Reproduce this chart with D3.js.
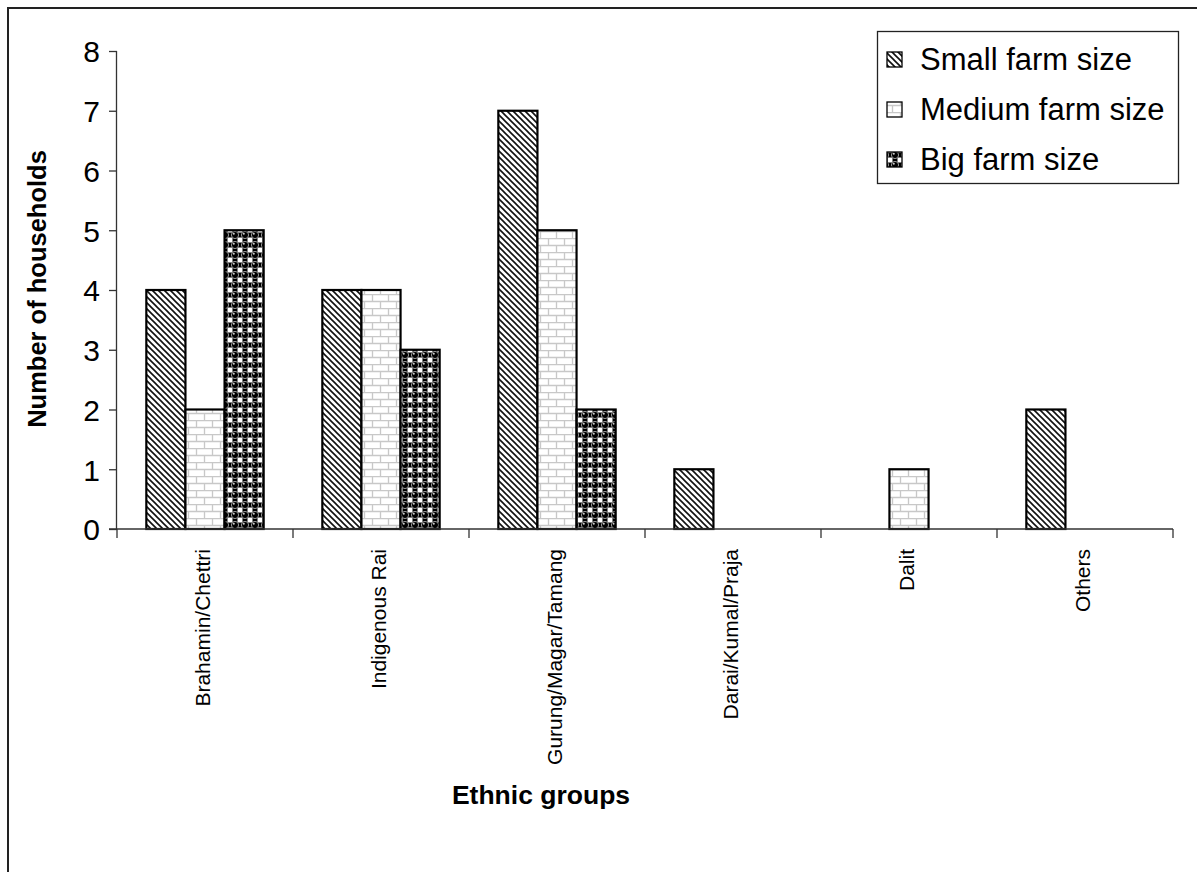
<!DOCTYPE html>
<html><head><meta charset="utf-8">
<script src="https://cdn.jsdelivr.net/npm/d3@7/dist/d3.min.js"></script>
<style>body{margin:0;background:#fff}svg{display:block;font-family:"Liberation Sans",Arial,sans-serif}</style>
</head><body>
<script>
const categories = ["Brahamin/Chettri","Indigenous Rai","Gurung/Magar/Tamang","Darai/Kumal/Praja","Dalit","Others"];
const seriesNames = ["Small farm size","Medium farm size","Big farm size"];
const smallFarm = [4,4,7,1,0,2];
const mediumFarm = [2,4,5,0,1,0];
const bigFarm = [5,3,2,0,0,0];
const yTicks = [0,1,2,3,4,5,6,7,8];
const seriesValues = [smallFarm, mediumFarm, bigFarm];

const W = 1197, H = 872;
const svg = d3.select("body").append("svg").attr("width", W).attr("height", H);
const defs = svg.append("defs");

// pattern: diagonal lines
const p1 = defs.append("pattern").attr("id","pSmall").attr("patternUnits","userSpaceOnUse").attr("width",6).attr("height",6);
p1.append("rect").attr("width",6).attr("height",6).attr("fill","#fff");
p1.append("path").attr("d","M-1,-1 L7,7 M-1,5 L1,7 M5,-1 L7,1").attr("stroke","#111").attr("stroke-width",1.6);

// pattern: bricks
const p2 = defs.append("pattern").attr("id","pMed").attr("patternUnits","userSpaceOnUse").attr("width",16).attr("height",14);
p2.append("rect").attr("width",16).attr("height",14).attr("fill","#fff");
p2.append("path").attr("d","M0,0.5 H16 M0,7.5 H16 M4.5,0 V7 M12.5,7 V14").attr("stroke","#c8c8c8").attr("stroke-width",1.3).attr("fill","none");

// pattern: balls
const p3 = defs.append("pattern").attr("id","pBig").attr("patternUnits","userSpaceOnUse").attr("width",10).attr("height",10);
p3.append("rect").attr("width",10).attr("height",10).attr("fill","#000");
[[0,0],[10,0],[0,10],[10,10]].forEach(([sx,sy])=>{
  p3.append("rect").attr("x",sx-2.5).attr("y",sy-2.5).attr("width",5).attr("height",5).attr("fill","#fff");
});
[[5,5]].forEach(([cx,cy])=>{
  p3.append("circle").attr("cx",cx).attr("cy",cy).attr("r",3.6).attr("fill","#000").attr("stroke","#9a9a9a").attr("stroke-width",1);
  p3.append("circle").attr("cx",cx-1.2).attr("cy",cy-1.2).attr("r",1).attr("fill","#ccc");
});
const fills = ["url(#pSmall)","url(#pMed)","url(#pBig)"];

// outer border (top and left)
svg.append("path").attr("d","M8,872 V8 H1197").attr("fill","none").attr("stroke","#222").attr("stroke-width",2);

const x0 = 117, x1 = 1173, yBase = 529, yTop = 51;
const x = d3.scaleBand().domain(categories).range([x0,x1]).paddingInner(0).paddingOuter(0);
const y = d3.scaleLinear().domain([0,8]).range([yBase,yTop]);
const bw = x.bandwidth()/4.5;
const xs = d3.scaleBand().domain(seriesNames).range([0, bw*3]);

// bars
const g = svg.append("g");
categories.forEach((c,ci)=>{
  const start = x(c) + (x.bandwidth() - bw*3)/2;
  seriesNames.forEach((s,si)=>{
    const v = seriesValues[si][ci];
    if (!v) return;
    g.append("rect")
      .attr("x", start + xs(s)).attr("y", y(v))
      .attr("width", xs.bandwidth()).attr("height", y(0)-y(v))
      .attr("fill", fills[si]).attr("stroke","#000").attr("stroke-width",2.2);
  });
});

// y axis
const yAxis = svg.append("g").attr("transform",`translate(${x0},0)`)
  .call(d3.axisLeft(y).tickValues(yTicks).tickSize(8).tickPadding(9).tickFormat(d3.format("d")));
yAxis.select(".domain").attr("stroke","#333").attr("stroke-width",1.3).attr("d",`M-0.5,${yTop}V${yBase}`);
yAxis.selectAll(".tick line").attr("stroke","#333").attr("stroke-width",1.3);
yAxis.selectAll(".tick text").attr("font-size",30).attr("fill","#000").attr("font-family","Liberation Sans, Arial, sans-serif").attr("dy","0.36em");

// x axis
const xAxis = svg.append("g").attr("transform",`translate(0,${yBase})`);
xAxis.append("line").attr("x1",x0-8).attr("x2",x1).attr("y1",0).attr("y2",0).attr("stroke","#333").attr("stroke-width",1.3);
const xTickPos = categories.map(c=>x(c)).concat([x1]);
xAxis.selectAll("line.t").data(xTickPos).enter().append("line").attr("class","t")
  .attr("x1",d=>d).attr("x2",d=>d).attr("y1",0).attr("y2",9).attr("stroke","#333").attr("stroke-width",1.3);
xAxis.selectAll("text.cl").data(categories).enter().append("text").attr("class","cl")
  .attr("transform",d=>`translate(${x(d)+x.bandwidth()/2-2},20) rotate(-90)`)
  .attr("text-anchor","end").attr("dy","0.35em").attr("font-size",21).attr("fill","#000").text(d=>d);

// axis titles
svg.append("text").attr("transform","translate(37,289) rotate(-90)").attr("text-anchor","middle")
  .attr("dy","0.35em").attr("font-size",25.5).attr("font-weight","bold").text("Number of households");
svg.append("text").attr("x",541).attr("y",804).attr("text-anchor","middle")
  .attr("font-size",26.5).attr("font-weight","bold").text("Ethnic groups");

// legend
const lg = svg.append("g");
lg.append("rect").attr("x",877.5).attr("y",31.5).attr("width",301).attr("height",152).attr("fill","#fff").attr("stroke","#222").attr("stroke-width",1.3);
seriesNames.forEach((s,i)=>{
  const cy = 59 + i*50;
  lg.append("rect").attr("x",887).attr("y",cy-7).attr("width",15).attr("height",15).attr("fill",fills[i]).attr("stroke","#000").attr("stroke-width",1.3);
  lg.append("text").attr("x",920).attr("y",cy).attr("dy","0.36em").attr("font-size",31).text(s);
});
</script>
</body></html>
